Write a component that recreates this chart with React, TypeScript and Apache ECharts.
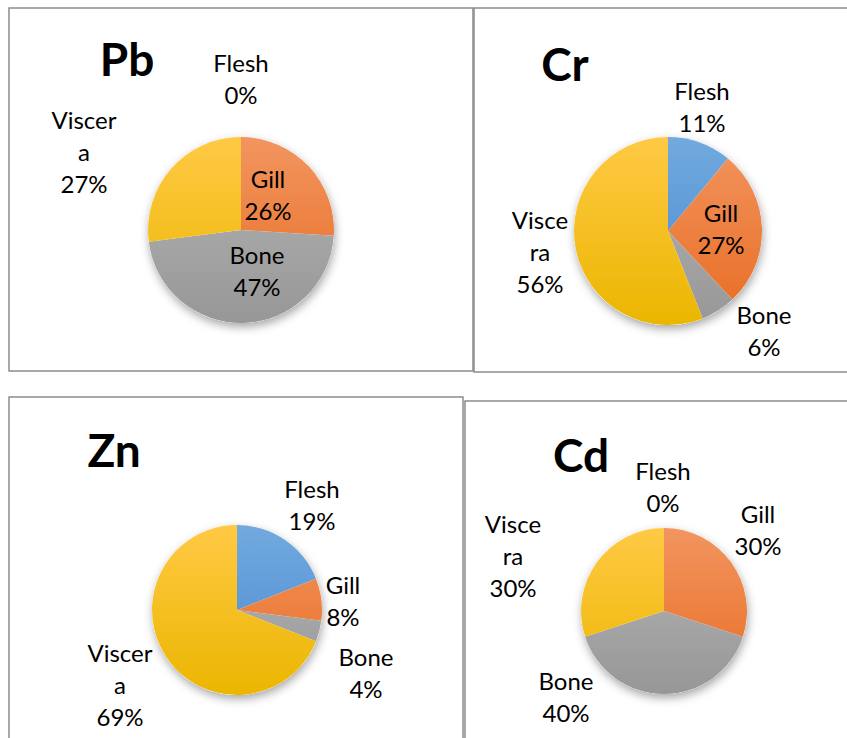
import React, { useEffect, useRef } from "react";
import * as echarts from "echarts";

// ---------- data ----------
const categories = ["Flesh", "Gill", "Bone", "Viscera"];
const pbValues = [0, 26, 47, 27];
const crValues = [11, 27, 6, 56];
const znValues = [19, 8, 4, 69];
const cdValues = [0, 30, 40, 30];
const panelTitles = ["Pb", "Cr", "Zn", "Cd"];
// label text as wrapped in the original (Excel wraps "Viscera")
const pbLabelNames = ["Flesh", "Gill", "Bone", "Viscer\na"];
const crLabelNames = ["Flesh", "Gill", "Bone", "Visce\nra"];
const znLabelNames = ["Flesh", "Gill", "Bone", "Viscer\na"];
const cdLabelNames = ["Flesh", "Gill", "Bone", "Visce\nra"];

// ---------- style / layout ----------
const sliceColors: [string, string][] = [
  ["#72AADF", "#4888CF"],
  ["#F29560", "#E86C22"],
  ["#B6B6B6", "#979797"],
  ["#FFC945", "#EBB600"],
];
const FONT = "Lato, 'Open Sans', sans-serif";

const panels = [
  {
    values: pbValues, names: pbLabelNames, title: panelTitles[0],
    cx: 241, cy: 230, r: 93, titlePos: [127, 58],
    labelOff: [[0, -152], [27, -36], [16, 40], [-157, -79]],
    box: [9, 8, 464, 363],
  },
  {
    values: crValues, names: crLabelNames, title: panelTitles[1],
    cx: 668, cy: 231, r: 94, titlePos: [565, 63],
    labelOff: [[34, -125], [53, -3], [96, 99], [-128, 20]],
    box: [474, 8, 400, 364],
  },
  {
    values: znValues, names: znLabelNames, title: panelTitles[2],
    cx: 237, cy: 610, r: 85, titlePos: [114, 449],
    labelOff: [[75, -106], [106, -10], [129, 62], [-117, 74]],
    box: [9, 397, 454, 400],
  },
  {
    values: cdValues, names: cdLabelNames, title: panelTitles[3],
    cx: 664, cy: 611, r: 83, titlePos: [581, 454],
    labelOff: [[-1, -125], [94, -82], [-98, 85], [-151, -56]],
    box: [465, 401, 400, 400],
  },
];

export default function App() {
  const ref = useRef<HTMLDivElement>(null);
  useEffect(() => {
    if (!ref.current) return;
    const chart = echarts.init(ref.current, undefined, { renderer: "svg" });

    const series: any[] = [];
    const graphic: any[] = [];

    panels.forEach((p) => {
      // border box
      graphic.push({
        type: "rect",
        shape: { x: p.box[0], y: p.box[1], width: p.box[2], height: p.box[3] },
        style: { fill: "none", stroke: "#8c8c8c", lineWidth: 1.5 },
        z: 0,
      });
      // title
      graphic.push({
        type: "text",
        x: p.titlePos[0],
        y: p.titlePos[1],
        style: {
          text: p.title,
          fontFamily: FONT,
          fontWeight: "bold",
          fontSize: 46,
          fill: "#000",
          align: "center",
          verticalAlign: "middle",
        },
        z: 10,
      });
      // shadow underlay
      series.push({
        type: "pie",
        silent: true,
        center: [p.cx, p.cy],
        radius: p.r,
        z: 1,
        label: { show: false },
        labelLine: { show: false },
        itemStyle: {
          color: "#ffffff",
          shadowBlur: 10,
          shadowOffsetY: 4,
          shadowOffsetX: 1,
          shadowColor: "rgba(0,0,0,0.35)",
        },
        data: [{ value: 1, name: "" }],
      });
      // main pie
      series.push({
        type: "pie",
        center: [p.cx, p.cy],
        radius: p.r,
        startAngle: 90,
        clockwise: true,
        z: 2,
        avoidLabelOverlap: false,
        label: {
          show: true,
          position: "inside",
          fontFamily: FONT,
          fontSize: 24,
          lineHeight: 32,
          color: "#000",
          formatter: (params: any) =>
            p.names[params.dataIndex] + "\n" + Math.round(params.percent) + "%",
        },
        labelLine: { show: false },
        labelLayout: (params: any) => {
          const off = p.labelOff[params.dataIndex];
          return {
            x: p.cx + off[0],
            y: p.cy + off[1],
            align: "center",
            verticalAlign: "middle",
          };
        },
        data: categories.map((c, i) => ({
          name: c,
          value: p.values[i],
          itemStyle: {
            color: {
              type: "linear",
              x: 0,
              y: p.cy - p.r,
              x2: 0,
              y2: p.cy + p.r,
              global: true,
              colorStops: [
                { offset: 0, color: sliceColors[i][0] },
                { offset: 1, color: sliceColors[i][1] },
              ],
            },
            borderWidth: p.values[i] === 0 ? 1 : 0,
            borderColor: "#7f9cc6",
          },
        })),
      });
    });

    chart.setOption({
      animation: false,
      backgroundColor: "#ffffff",
      series,
      graphic,
    });
    return () => chart.dispose();
  }, []);

  return (
    <div
      ref={ref}
      style={{ position: "absolute", left: 0, top: 0, width: 847, height: 738 }}
    />
  );
}
